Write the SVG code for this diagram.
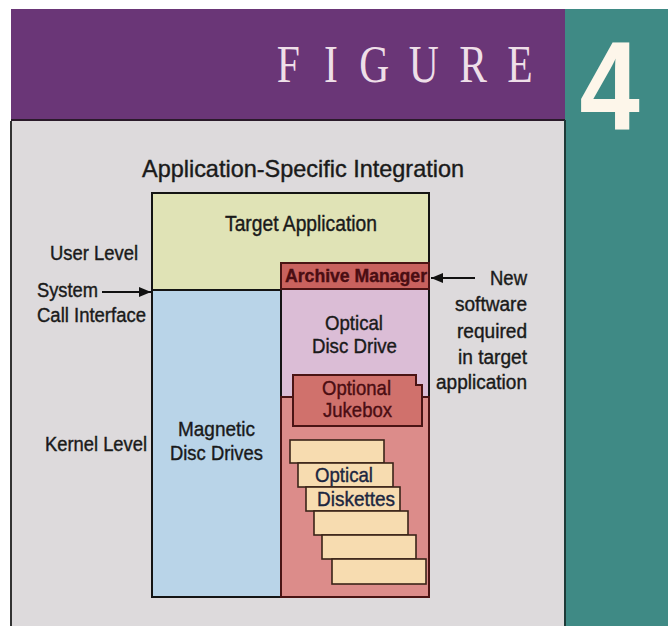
<svg xmlns="http://www.w3.org/2000/svg" width="668" height="626" viewBox="0 0 668 626">
<defs>
<marker id="ah" viewBox="0 0 12 10" refX="12" refY="5" markerWidth="12" markerHeight="10" markerUnits="userSpaceOnUse" orient="auto">
<path d="M0,0 L12,5 L0,10 Z" fill="#111"/>
</marker>
<style>
.t{font-family:"Liberation Sans Narrow","Liberation Sans",Arial,sans-serif;fill:#1a1a1a;stroke:#1a1a1a;stroke-width:0.4;}
.red{fill:#4a0d12;stroke:#4a0d12;}
.navy{fill:#1c2640;stroke:#1c2640;}
.box{stroke:#141414;stroke-width:2;}
.rbox{stroke:#4a1414;stroke-width:2;}
.disk{fill:#f7dcb0;stroke:#3a2418;stroke-width:1.6;}
.conn{stroke:#111;stroke-width:2;fill:none;}
</style>
</defs>
<rect width="668" height="626" fill="#ffffff"/>
<!-- background panels -->
<rect x="11" y="9" width="554" height="112" fill="#6a3677"/>
<rect x="565" y="9" width="103" height="617" fill="#3f8a85"/>
<rect x="11" y="121" width="554" height="505" fill="#dddadc"/>
<line x1="11" y1="120" x2="565" y2="120" stroke="#2a1a2a" stroke-width="2"/>
<line x1="11" y1="121" x2="11" y2="626" stroke="#333" stroke-width="2"/>
<line x1="565" y1="120" x2="565" y2="626" stroke="#1e3a38" stroke-width="2"/>
<g id="header">
<text transform="scale(0.8,1)" y="82" x="346 405 449 511 574 634" font-family="'Liberation Serif','Times New Roman',serif" font-size="52" fill="#eedfe8">FIGURE</text>
<text transform="scale(0.86,1)" x="709" y="130" text-anchor="middle" font-family="'Liberation Sans',Arial,sans-serif" font-weight="bold" font-size="126" fill="#fdf6ea">4</text>
</g>
<text class="t" x="142" y="177" font-size="24" textLength="322" lengthAdjust="spacingAndGlyphs">Application-Specific Integration</text>
<!-- level labels -->
<g id="labels">
<text class="t" x="50" y="260" font-size="20" textLength="88" lengthAdjust="spacingAndGlyphs">User Level</text>
<text class="t" x="37" y="297" font-size="20" textLength="61" lengthAdjust="spacingAndGlyphs">System</text>
<text class="t" x="37" y="322" font-size="20" textLength="109" lengthAdjust="spacingAndGlyphs">Call Interface</text>
<text class="t" x="45" y="451" font-size="20" textLength="102" lengthAdjust="spacingAndGlyphs">Kernel Level</text>
<text class="t" x="527" y="285" font-size="20" text-anchor="end" textLength="37" lengthAdjust="spacingAndGlyphs">New</text>
<text class="t" x="527" y="311" font-size="20" text-anchor="end" textLength="72" lengthAdjust="spacingAndGlyphs">software</text>
<text class="t" x="527" y="338" font-size="20" text-anchor="end" textLength="70" lengthAdjust="spacingAndGlyphs">required</text>
<text class="t" x="527" y="364" font-size="20" text-anchor="end" textLength="69" lengthAdjust="spacingAndGlyphs">in target</text>
<text class="t" x="527" y="389" font-size="20" text-anchor="end" textLength="91" lengthAdjust="spacingAndGlyphs">application</text>
</g>
<g id="target-application">
<rect class="box" x="152" y="193" width="277" height="97" fill="#e0e3b6"/>
<text class="t" x="225" y="231" font-size="22" textLength="152" lengthAdjust="spacingAndGlyphs">Target Application</text>
</g>
<g id="magnetic-disc-drives">
<rect class="box" x="152" y="290" width="129" height="307" fill="#b9d4e8"/>
<text class="t" x="178" y="436" font-size="21" textLength="77" lengthAdjust="spacingAndGlyphs">Magnetic</text>
<text class="t" x="170" y="460" font-size="21" textLength="93" lengthAdjust="spacingAndGlyphs">Disc Drives</text>
</g>
<g id="optical-disc-drive">
<rect class="box" x="281" y="289" width="148" height="108" fill="#dbbdd6"/>
<rect class="rbox" x="281" y="397" width="148" height="200" fill="#dc8c8a"/>
<text class="t" x="325" y="330" font-size="21" textLength="58" lengthAdjust="spacingAndGlyphs">Optical</text>
<text class="t" x="312" y="353" font-size="21" textLength="85" lengthAdjust="spacingAndGlyphs">Disc Drive</text>
</g>
<g id="archive-manager">
<rect class="rbox" x="281" y="263" width="148" height="26" fill="#c9625e"/>
<text class="t red" x="285" y="282" font-size="19" font-weight="bold" textLength="142" lengthAdjust="spacingAndGlyphs">Archive Manager</text>
</g>
<g id="optional-jukebox">
<path class="rbox" d="M293,375 H416 V385 H422 V426 H293 Z" fill="#d0716c"/>
<text class="t red" x="322" y="395" font-size="21" textLength="69" lengthAdjust="spacingAndGlyphs">Optional</text>
<text class="t red" x="323" y="417" font-size="21" textLength="69" lengthAdjust="spacingAndGlyphs">Jukebox</text>
</g>
<g id="optical-diskettes">
<rect class="disk" x="290" y="440" width="94" height="23"/>
<rect class="disk" x="298" y="463" width="95" height="24"/>
<rect class="disk" x="306" y="487" width="94" height="24"/>
<rect class="disk" x="314" y="511" width="94" height="24"/>
<rect class="disk" x="322" y="535" width="94" height="24"/>
<rect class="disk" x="332" y="559" width="94" height="25"/>
<text class="t navy" x="315" y="482" font-size="21" textLength="58" lengthAdjust="spacingAndGlyphs">Optical</text>
<text class="t navy" x="317" y="506" font-size="21" textLength="78" lengthAdjust="spacingAndGlyphs">Diskettes</text>
</g>
<g id="connectors">
<line class="conn" x1="102" y1="292" x2="151" y2="292" marker-end="url(#ah)"/>
<line class="conn" x1="475" y1="278" x2="431" y2="278" marker-end="url(#ah)"/>
</g>
</svg>
